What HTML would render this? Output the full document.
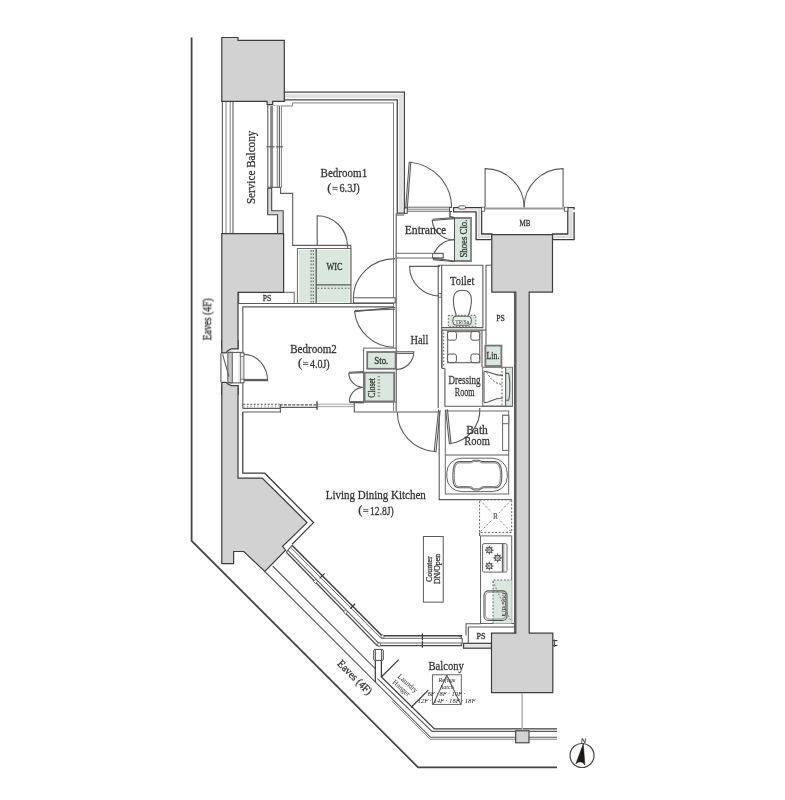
<!DOCTYPE html>
<html>
<head>
<meta charset="utf-8">
<title>Floor plan</title>
<style>
html,body{margin:0;padding:0;background:#fff;}
body{width:785px;height:800px;overflow:hidden;font-family:"Liberation Serif",serif;}
svg{display:block;}
svg text{font-family:"Liberation Serif",serif;fill:#333;stroke:#333;stroke-width:0.28;}
.d{stroke:#3c3c3c;stroke-width:1.25;fill:none;}
.m{stroke:#5c5c5c;stroke-width:1.1;fill:none;}
.l{stroke:#808080;stroke-width:1;fill:none;}
.p{fill:#d2d2d2;stroke:#3c3c3c;stroke-width:1.2;}
.w{fill:#e6e6e6;stroke:#555;stroke-width:1;}
.g{fill:#d9e7df;stroke:none;}
.gb{fill:#d9e7df;stroke:#747474;stroke-width:1.8;}
.dot{stroke:#666;stroke-width:1;fill:none;stroke-dasharray:1.6 1.6;}
.wh{fill:#fff;stroke:#666;stroke-width:1;}
</style>
</head>
<body>
<svg width="785" height="800" viewBox="0 0 785 800">
<defs><filter id="soft" x="0" y="0" width="785" height="800" filterUnits="userSpaceOnUse"><feGaussianBlur stdDeviation="0.4"/></filter></defs>
<rect x="0" y="0" width="785" height="800" fill="#fff"/>
<g filter="url(#soft)">

<!-- ===== EAVES OUTLINE ===== -->
<g id="eaves">
<polyline points="191.6,37.5 191.6,540.8 418.1,767.3 557,767.3" fill="none" stroke="#454545" stroke-width="1.8"/>
</g>


<!-- ===== WALLS ===== -->
<g id="walls">
<!-- bedroom1 top + right wall body -->
<polygon points="284.3,92.2 404.4,92.2 404.4,213.2 397.3,213.2 397.3,99.9 284.3,99.9" fill="#fff" stroke="none"/>
<polyline points="285,96.05 400.85,96.05 400.85,212.4" fill="none" stroke="#e0e0e0" stroke-width="4"/>
<polygon points="284.3,92.2 404.4,92.2 404.4,213.2 397.3,213.2 397.3,99.9 284.3,99.9" fill="none" stroke="#454545" stroke-width="1.3"/>
<!-- bedroom1 finish line -->
<polyline class="l" points="267.6,106 292.6,106 292.6,102.9 393.5,102.9 393.5,411.2"/>
<line class="m" x1="396.2" y1="213.2" x2="396.2" y2="411.2"/>
<!-- service balcony outer rail -->
<line class="m" x1="222.4" y1="101.4" x2="222.4" y2="233.6"/>
<line class="l" x1="226" y1="101.4" x2="226" y2="233.6"/>
<line class="l" x1="230.2" y1="101.4" x2="230.2" y2="233.6"/>
<line class="m" x1="233" y1="101.4" x2="233" y2="233.6"/>
<!-- window service balcony / bedroom1 -->
<rect x="267.6" y="106" width="13.8" height="81.3" fill="#fff" stroke="none"/>
<line class="m" x1="267.8" y1="104.5" x2="267.8" y2="187.3"/>
<line x1="271.6" y1="106" x2="271.6" y2="187.3" stroke="#8a8a8a" stroke-width="3"/>
<line class="l" x1="277.3" y1="106" x2="277.3" y2="187.3"/>
<line class="m" x1="279.4" y1="106" x2="279.4" y2="187.3"/>
<line class="l" x1="281.4" y1="106" x2="281.4" y2="187.3"/>
<line class="m" x1="266.5" y1="146.8" x2="274.5" y2="146.8"/>
<line class="m" x1="276" y1="146.8" x2="283" y2="146.8"/>
<line class="m" x1="267.6" y1="187.3" x2="281.4" y2="187.3"/>
<!-- thick wall below window -->
<polygon points="267.7,188.3 271.7,188.3 271.7,210.8 283.2,210.8 283.2,233.6 277.5,233.6 277.5,214.8 267.7,214.8" fill="#d8d8d8" stroke="#444" stroke-width="1.1"/>
<!-- bedroom1 left finish line -->
<polyline class="m" points="280.5,187.3 280.5,193.4 292.7,193.4 292.7,245.4 350.8,245.4 350.8,303.5"/>
</g>
<!-- ===== WIC / PS / BEDROOM1 DOORS ===== -->
<g id="wic">
<rect x="297.4" y="248.5" width="53.4" height="55" fill="#fff" stroke="#6a6a6a" stroke-width="1"/>
<rect class="g" x="298.9" y="249.8" width="50.6" height="52.5"/>
<line x1="316.2" y1="248.5" x2="316.2" y2="303.5" stroke="#5a5a5a" stroke-width="1.3"/>
<line x1="316.2" y1="284.8" x2="350.8" y2="284.8" stroke="#5a5a5a" stroke-width="1.3"/>
<line x1="311.1" y1="250" x2="311.1" y2="303" stroke="#666" stroke-width="1.1" stroke-dasharray="1.7 1.7"/>
<line x1="313.3" y1="250" x2="313.3" y2="303" stroke="#666" stroke-width="1.1" stroke-dasharray="1.7 1.7"/>
<line x1="317.5" y1="288.2" x2="349.5" y2="288.2" stroke="#666" stroke-width="1.1" stroke-dasharray="1.7 1.7"/>
<!-- WIC door -->
<path class="m" d="M317.2,245.6 L317.2,215.8 A30.2,30.2 0 0 1 347.4,245.6"/>
<line class="m" x1="347.6" y1="245.4" x2="347.6" y2="249"/>
<!-- PS box -->
<rect class="wh" x="238.7" y="292.3" width="55.5" height="11.2"/>
<line class="m" x1="238.7" y1="303.5" x2="393.3" y2="303.5"/>
</g>
<!-- ===== BEDROOM2 OUTLINE ===== -->
<g id="bed2">
<polyline class="m" points="242.8,403.1 242.8,306.9 393.3,306.9"/>
<!-- hall door to bedroom1: leaf + arc -->
<rect x="353.4" y="297.8" width="41.8" height="5.1" fill="#fff" stroke="#555" stroke-width="1"/>
<path class="m" d="M353.4,297.8 A41.8,39.5 0 0 1 395.2,258.6"/>
<!-- bedroom2 door -->
<path class="m" d="M395,307.4 L354.6,311.6 A40.6,40 0 0 0 393.6,347.3" />
<line class="m" x1="354.9" y1="310.6" x2="395" y2="309.3"/>
</g>
<!-- ===== ENTRANCE ===== -->
<g id="entrance">
<!-- entrance door -->
<line x1="405.8" y1="207.2" x2="451.7" y2="207.2" stroke="#666" stroke-width="1"/>
<line x1="405.8" y1="209.2" x2="451.7" y2="209.2" stroke="#aaa" stroke-width="1.6"/>
<line x1="405.8" y1="211.2" x2="451.7" y2="211.2" stroke="#666" stroke-width="1"/>
<path class="m" d="M405.6,209.5 L409.2,162.2 L410.8,162.2 L407.2,209.5"/>
<path class="m" d="M410.6,162.2 A46,46 0 0 1 451.7,207.4"/>
<rect x="404.4" y="208" width="2.8" height="5.4" fill="#fff" stroke="#444" stroke-width="1"/>
<polyline class="d" points="450,207.6 450,216.6 454.4,217.6"/><rect x="449.6" y="207.4" width="3.6" height="4.2" fill="#fff" stroke="#444" stroke-width="0.9"/>
<!-- wall entrance -> MB -->
<polygon points="453.6,207.7 481.6,207.7 481.6,234 491.8,234 491.8,239.7 476.1,239.7 476.1,211.8 453.6,211.8" fill="#dadada" stroke="#fff" stroke-width="3.2"/><polygon points="453.6,207.7 481.6,207.7 481.6,234 491.8,234 491.8,239.7 476.1,239.7 476.1,211.8 453.6,211.8" fill="none" stroke="#3a3a3a" stroke-width="1.3"/>
<polygon points="567.8,207.7 574.1,207.7 574.1,239.7 552.5,239.7 552.5,234 567.8,234" fill="#dadada" stroke="#fff" stroke-width="3.2"/><polygon points="567.8,207.7 574.1,207.7 574.1,239.7 552.5,239.7 552.5,234 567.8,234" fill="none" stroke="#3a3a3a" stroke-width="1.3"/>
<rect x="458.8" y="205.8" width="6.7" height="3.2" rx="1" fill="#fff" stroke="#555" stroke-width="0.9"/>
<rect x="573" y="209.6" width="2.4" height="2.6" fill="#fff"/>
<!-- MB threshold + double doors -->
<line x1="484" y1="208.5" x2="565" y2="208.5" stroke="#999" stroke-width="2.2"/>
<rect x="481.6" y="207.2" width="3" height="4" fill="#fff" stroke="#555" stroke-width="0.8"/>
<rect x="564.6" y="207.2" width="3.2" height="4" fill="#fff" stroke="#555" stroke-width="0.8"/>
<path class="m" d="M485.1,207.2 L485.1,168.6 A39,39 0 0 1 524.1,207.2"/>
<path class="m" d="M563.1,207.2 L563.1,168.6 A39,39 0 0 0 524.1,207.2"/>
<!-- entrance left & step -->
<line class="m" x1="396.2" y1="215" x2="404" y2="215"/>
<rect x="396.2" y="253.3" width="46.9" height="4.7" fill="#fff" stroke="#6a6a6a" stroke-width="1"/>
<!-- shoes closet -->
<rect class="g" x="454.6" y="217.6" width="16.8" height="43.6"/>
<polyline points="454.6,218 471,218 471,261 454.6,261" fill="none" stroke="#808080" stroke-width="1.8"/>
<line x1="454.5" y1="217.2" x2="454.5" y2="261.8" stroke="#505050" stroke-width="1"/>
<path class="m" d="M454.3,218.6 L432.2,220.4 A22.2,21 0 0 0 454.3,239.8"/>
<path class="m" d="M454.3,261 L433,258.2 A21.4,21 0 0 1 454.3,239.8"/>
<line class="m" x1="432.4" y1="219.2" x2="454.3" y2="217.6"/>
<line class="m" x1="433" y1="259.6" x2="454.3" y2="261.6"/>
<rect x="432.6" y="253.6" width="10.5" height="4.2" fill="#fff" stroke="#555" stroke-width="0.9"/>
</g>
<!-- ===== TOILET ===== -->
<g id="toilet">
<polyline class="m" points="438.2,408 438.2,265.2 482.9,265.2 482.9,327.6 441.7,327.6"/>
<line class="m" x1="441.7" y1="265.2" x2="441.7" y2="368"/>
<polyline class="m" points="491.8,265.2 486,265.2 486,344.8"/>
<!-- toilet door -->
<path class="m" d="M440,266.4 L409.6,266.4 A30.4,29.6 0 0 0 440,296"/>
<rect x="438.6" y="293.6" width="2.6" height="3.6" fill="#fff" stroke="#555" stroke-width="0.8"/>
<!-- bowl -->
<path class="m" d="M456.6,316.5 C453.2,306 452.6,296.8 455.2,293.2 C458,289.2 466.8,289.2 469.6,293.2 C472.2,296.8 471.6,306 468.2,316.5" fill="#fff"/>
<rect x="448.3" y="315.3" width="27.6" height="11.4" class="g"/>
<rect x="448.3" y="315.3" width="27.6" height="11.4" fill="none" stroke="#666" stroke-width="1" stroke-dasharray="1.6 1.6"/>
<rect x="452.9" y="316.2" width="18.4" height="9" rx="3.2" fill="#e9f1ec" stroke="#555" stroke-width="1"/>
</g>
<!-- ===== STO / CLOSET ===== -->
<g id="sto">
<rect x="363.6" y="348.1" width="32.6" height="54" fill="#fff" stroke="#6a6a6a" stroke-width="1"/>
<rect class="gb" x="367.2" y="352" width="28.4" height="16.8"/>
<path class="m" d="M396.2,351.8 L413.8,351.8 A17.6,17.6 0 0 1 396.2,369.4"/>
<line class="m" x1="396.2" y1="353.4" x2="413.6" y2="353.4"/>
<rect class="gb" x="364.6" y="372.6" width="29.6" height="28.8"/>
<line x1="378.8" y1="376.2" x2="378.8" y2="398.6" stroke="#777" stroke-width="2.6" stroke-dasharray="1 2.2"/>
<path class="m" d="M363.6,372.6 L348.8,373.3 A14.8,14.4 0 0 0 362.6,387.4"/>
<path class="m" d="M363.6,401.8 L349.4,401.2 A14.2,14 0 0 1 362.6,387.4"/>
<line class="m" x1="348.9" y1="372.2" x2="363.6" y2="371.6"/>
<line class="m" x1="349.4" y1="402.4" x2="363.6" y2="402.6"/>
</g>
<!-- ===== PARTITION bed2 / LDK ===== -->
<g id="partition">
<line x1="243.2" y1="404.2" x2="279.7" y2="404.2" stroke="#555" stroke-width="1.1" stroke-dasharray="2 1.5"/>
<line x1="243.6" y1="406.4" x2="279.7" y2="406.4" stroke="#999" stroke-width="2.4" stroke-dasharray="0.8 2.7"/>
<line class="m" x1="242.8" y1="408.4" x2="280.6" y2="408.4"/>
<line x1="279.7" y1="404.9" x2="317" y2="404.9" stroke="#555" stroke-width="1.1" stroke-dasharray="3 1.2"/>
<line class="m" x1="279.7" y1="407.4" x2="317" y2="407.4"/>
<line x1="317" y1="404.2" x2="354.3" y2="404.2" stroke="#9a9a9a" stroke-width="0.9"/>
<line x1="317" y1="406.6" x2="354.3" y2="406.6" stroke="#9a9a9a" stroke-width="0.9"/>
<line class="d" x1="317" y1="401.2" x2="317" y2="409.8"/>
<line class="m" x1="280.4" y1="404.4" x2="280.4" y2="412.6"/>
<line class="m" x1="242.8" y1="403.1" x2="242.8" y2="408.4"/>
<polyline class="m" points="242.8,412 280.8,412"/>
<polyline class="m" points="363.6,402.8 354.3,402.8 354.3,412 440,412"/>
<!-- LDK door -->
<path class="m" d="M438.6,409.6 L434.2,451.4 L436,451.6 L440.2,410"/>
<path class="m" d="M397.3,412 A39.6,40 0 0 0 434.6,451.5"/>
</g>
<!-- ===== WASHER / LIN / BASIN / DRESSING ===== -->
<g id="dressing">
<polyline class="m" points="441.9,368.4 441.9,330.1 482,330.1 482,367.3"/>
<line class="m" x1="486" y1="330.1" x2="482" y2="330.1"/>
<line x1="443.7" y1="332.5" x2="443.7" y2="367.6" stroke="#666" stroke-width="1.1" stroke-dasharray="1.6 1.9"/>
<rect x="447.6" y="331.6" width="32.1" height="31" fill="#fff" stroke="#777" stroke-width="1.3"/>
<rect x="447.6" y="331.6" width="8.8" height="8.6" rx="2" fill="#fff" stroke="#555" stroke-width="1"/>
<rect x="470.9" y="331.6" width="8.8" height="8.6" rx="2" fill="#fff" stroke="#555" stroke-width="1"/>
<rect x="447.6" y="354" width="8.8" height="8.6" rx="2" fill="#fff" stroke="#555" stroke-width="1"/>
<rect x="470.9" y="354" width="8.8" height="8.6" rx="2" fill="#fff" stroke="#555" stroke-width="1"/>
<!-- Lin. -->
<rect class="gb" x="485.4" y="345.6" width="16" height="20.4"/>
<!-- basin -->
<rect x="482.7" y="367.3" width="29.8" height="38.9" fill="#fff" stroke="#6a6a6a" stroke-width="1"/>
<rect class="g" x="505.4" y="368" width="6.6" height="37.6"/>
<line class="m" x1="505.6" y1="367.3" x2="505.6" y2="406.2"/>
<line x1="502" y1="367.3" x2="502" y2="406.2" stroke="#666" stroke-width="1" stroke-dasharray="2 1.6"/>
<path class="m" d="M484,371.2 C491,371.2 492,375.4 503,375.4"/>
<path class="m" d="M484,402.6 C491,402.6 492,398 503,398"/>
<path d="M486.5,372 C490,378 494,383.5 502,384.5" fill="none" stroke="#666" stroke-width="1" stroke-dasharray="2 1.6"/>
<path class="m" d="M505.6,373.4 L508.6,373.4 C510.2,380 510.2,394 508.6,400.2 L505.6,400.2" fill="#e9f1ec"/>
<line class="m" x1="484" y1="371.2" x2="484" y2="402.6"/>
<!-- dressing room walls -->
<polyline class="m" points="444.9,368.4 444.9,406.2 512.5,406.2"/>
<polyline class="m" points="441.9,368.4 444.9,368.4"/>
<line class="m" x1="514.5" y1="292.1" x2="514.5" y2="633.2"/>
</g>
<!-- ===== BATHROOM ===== -->
<g id="bath">
<polyline class="m" points="439.2,411.7 439.2,499.6 511.8,499.6"/>
<rect x="445.3" y="411" width="63.4" height="83" fill="#fff" stroke="#6a6a6a" stroke-width="1"/>
<line class="m" x1="445.3" y1="455" x2="508.7" y2="455"/>
<rect x="446.8" y="458.2" width="60.4" height="33.4" rx="15" ry="14.5" fill="#fff" stroke="#666" stroke-width="1"/>
<path class="m" d="M459,461.6 L470.5,461.6 C472.6,461.6 472.4,460.3 474.6,460.3 L478.4,460.3 C480.4,460.3 480.4,461.6 482.6,461.6 L494.4,461.6 C499.4,461.6 501.8,465.4 501.8,475.4 C501.8,485.4 499.4,487.8 494.4,487.8 L483.4,487.8 C480.6,487.8 480.6,490 478.2,490 L474.8,490 C472.4,490 472.4,487.8 469.6,487.8 L459,487.8 C454.6,487.8 452.9,485.4 452.9,475.4 C452.9,465.4 454.6,461.6 459,461.6 Z"/>
<path class="l" d="M459.6,462.9 L470.5,462.9 C472.6,462.9 472.4,461.6 474.6,461.6 L478.4,461.6 C480.4,461.6 480.4,462.9 482.6,462.9 L493.8,462.9 C498.4,462.9 500.4,466.2 500.4,475.4 C500.4,484.6 498.4,486.5 493.8,486.5 L483.4,486.5 C480.6,486.5 480.6,488.7 478.2,488.7 L474.8,488.7 C472.4,488.7 472.4,486.5 469.6,486.5 L459.6,486.5 C455.8,486.5 454.3,484.6 454.3,475.4 C454.3,466.2 455.8,462.9 459.6,462.9 Z"/>
<!-- shower bar -->
<rect x="502.6" y="415.3" width="6.1" height="35.1" fill="#fff" stroke="#6a6a6a" stroke-width="1"/>
<rect x="502.6" y="415.3" width="6.1" height="8.4" fill="#fff" stroke="#6a6a6a" stroke-width="1"/>
<!-- bath door -->
<path class="m" d="M445.6,409.4 L449.4,443.6 L451,443.4 L447.4,409.4"/>
<path class="m" d="M450.2,443.5 A34,34 0 0 0 479.8,408"/>
</g>
<!-- ===== KITCHEN ===== -->
<g id="kitchen">
<rect x="479.6" y="499.9" width="32.1" height="32.5" fill="#fff" stroke="#666" stroke-width="1" stroke-dasharray="2 1.6"/>
<line x1="479.6" y1="499.9" x2="511.7" y2="532.4" stroke="#777" stroke-width="0.9" stroke-dasharray="2.4 1.8"/>
<line x1="511.7" y1="499.9" x2="479.6" y2="532.4" stroke="#777" stroke-width="0.9" stroke-dasharray="2.4 1.8"/>
<rect x="491.8" y="511.6" width="7.2" height="8.4" fill="#fff"/>
<line class="m" x1="479.6" y1="532.6" x2="479.6" y2="535.9"/>
<rect x="480.5" y="535.9" width="31.2" height="87.6" fill="#fff" stroke="#6a6a6a" stroke-width="1"/>
<!-- stove -->
<rect x="482.6" y="543.6" width="24.4" height="28.5" rx="1.5" fill="#fff" stroke="#666" stroke-width="1"/>
<line class="m" x1="502.4" y1="543.6" x2="502.4" y2="572.1"/>
<line class="l" x1="503.8" y1="543.6" x2="503.8" y2="572.1"/>
<g stroke="#555" stroke-width="0.9" fill="none">
<g transform="translate(489.3,550.1)"><path d="M-4.3,0H4.3M0,-4.3V4.3M-3,-3L3,3M-3,3L3,-3" stroke-width="1.1"/><circle r="2.5" fill="#fff" stroke-width="1.1"/><circle r="0.9" fill="#fff" stroke-width="0.8"/></g>
<g transform="translate(497.6,557.9)"><path d="M-4.3,0H4.3M0,-4.3V4.3M-3,-3L3,3M-3,3L3,-3" stroke-width="1.1"/><circle r="2.5" fill="#fff" stroke-width="1.1"/><circle r="0.9" fill="#fff" stroke-width="0.8"/></g>
<g transform="translate(489.3,566)"><path d="M-4.3,0H4.3M0,-4.3V4.3M-3,-3L3,3M-3,3L3,-3" stroke-width="1.1"/><circle r="2.5" fill="#fff" stroke-width="1.1"/><circle r="0.9" fill="#fff" stroke-width="0.8"/></g>
</g>
<!-- green dotted storage + sink -->
<rect class="g" x="493" y="580" width="18.7" height="43.5"/>
<polyline points="493,623.5 493,580 511.7,580" fill="none" stroke="#666" stroke-width="1" stroke-dasharray="1.8 1.6"/>
<line x1="493" y1="581.3" x2="510.8" y2="621" stroke="#666" stroke-width="0.9" stroke-dasharray="1.6 1.8"/>
<rect x="484" y="590.9" width="23" height="29.5" rx="4.5" fill="none" stroke="#555" stroke-width="1.1"/>
<rect x="485.4" y="592.3" width="20.2" height="26.7" rx="3.6" fill="none" stroke="#888" stroke-width="0.8"/>
<!-- counter island -->
<rect x="423.4" y="536.5" width="19.8" height="65.6" fill="#fff" stroke="#5a5a5a" stroke-width="1"/>
<!-- PS + step -->
<polyline class="m" points="480.5,623.8 466,623.8 466,635.6"/>
<polyline class="m" points="491.5,627 468.3,627 468.3,643"/>
<line class="m" x1="511.7" y1="623.5" x2="514.5" y2="623.5"/>
<line class="m" x1="491.5" y1="627" x2="514.5" y2="627"/>
<rect x="463.6" y="643.3" width="27.9" height="4.9" fill="#e6e6e6" stroke="#3c3c3c" stroke-width="1.2"/>
</g>
<!-- ===== PILLARS ===== -->
<g id="pillars">
<polygon class="p" points="221.8,37.5 238,37.5 238,40.4 284.3,40.4 284.3,101.4 272.7,101.4 272.7,104.5 267.1,104.5 267.1,101.4 221.8,101.4"/>
<polygon class="p" points="221.8,233.6 283.6,233.6 283.6,292.3 238,292.3 238,478.1 262.2,478.1 307,522.6 282.6,546.4 285.6,550.1 264.8,571.5 243.8,551.5 233.6,551.5 233.6,563.7 221.8,563.7"/>
<polygon class="p" points="491.8,234.6 552.5,234.6 552.5,292.1 529.2,292.1 529.2,633.2 552.8,633.2 552.8,692.6 491.5,692.6 491.5,633.2 515.8,633.2 515.8,292.1 491.8,292.1"/>
</g>
<!-- ===== STEM WINDOW (bedroom2) ===== -->
<g id="stemwin">
<rect x="220.6" y="349" width="18.2" height="36.6" fill="#fff" stroke="none"/>
<rect x="238.6" y="352.4" width="5.8" height="30.5" fill="#fff" stroke="none"/>
<polygon points="221.8,349.4 221.8,352.9 226,352.9 227.8,350.7 231.4,348.9 238,348.9 238,340 221.8,340" fill="#d2d2d2" stroke="none"/>
<polygon points="221.8,385.2 221.8,382.4 226,382.4 227.8,384 231.4,385.5 238,385.5 238,395 221.8,395" fill="#d2d2d2" stroke="none"/>
<polyline class="d" points="238,340 238,348.9 231.4,348.9 227.8,350.7 226,352.9 221.2,352.9"/>
<polyline class="d" points="238,395 238,385.5 231.4,385.5 227.8,384 226,382.4 221.2,382.4"/>
<line class="d" x1="221.8" y1="340" x2="221.8" y2="352.9"/>
<line class="d" x1="221.8" y1="382.4" x2="221.8" y2="395"/>
<line class="m" x1="220.9" y1="353.2" x2="220.9" y2="382.2"/>
<rect x="227.8" y="352.2" width="4.5" height="30.6" fill="#c4c4c4" stroke="#555" stroke-width="0.9"/>
<line class="m" x1="222.6" y1="354.3" x2="229" y2="376.6"/>
<polyline class="m" points="227.8,352.4 243.9,352.4"/>
<polyline class="m" points="227.8,382.9 243.9,382.9"/>
<rect x="240.3" y="353" width="3.6" height="29.6" fill="#e4e4e4" stroke="#666" stroke-width="0.9"/>
<rect x="240.3" y="353" width="3.6" height="3.4" fill="#fff" stroke="#666" stroke-width="0.8"/>
<rect x="240.3" y="379.2" width="3.6" height="3.4" fill="#fff" stroke="#666" stroke-width="0.8"/>
<path class="m" d="M243.9,380.6 L267.6,380.6 A23.7,26.2 0 0 0 243.9,354.4"/>
<line class="m" x1="243.9" y1="379.4" x2="267.4" y2="379.4"/>
</g>
<!-- ===== LDK left/bottom outline ===== -->
<g id="ldk">
<polyline class="d" points="242.8,412 242.8,473.2 264.8,473.2 313.5,522.6 292,544.4"/>
</g>
<!-- ===== DIAGONAL + BOTTOM SLIDING WINDOWS ===== -->
<g id="slide">
<!-- inner pair (dark) -->
<polyline points="292,545.3 382,635.8 462.2,635.8" fill="none" stroke="#444" stroke-width="1.6"/>
<polyline points="290.3,547 381,638.3 462.2,638.3" fill="none" stroke="#6a6a6a" stroke-width="1"/>
<!-- outer pair -->
<polyline points="287.9,550.3 378.4,643 462.2,643" fill="none" stroke="#666" stroke-width="1.1"/>
<polyline points="286.3,552.2 377.2,645.7 462.2,645.7" fill="none" stroke="#4a4a4a" stroke-width="1.3"/>
<line class="m" x1="286.3" y1="552.2" x2="292" y2="545.3"/>
<!-- ticks on inner line -->
<line class="d" x1="319.6" y1="578.4" x2="324.6" y2="573.4"/>
<line class="d" x1="350.2" y1="608.8" x2="355.2" y2="603.8"/>
<!-- small squares on outer -->
<rect x="-1.5" y="-1.5" width="3" height="3" fill="#fff" stroke="#555" stroke-width="0.8" transform="translate(315.6,581.4) rotate(45)"/>
<rect x="-1.5" y="-1.5" width="3" height="3" fill="#fff" stroke="#555" stroke-width="0.8" transform="translate(345.6,612) rotate(45)"/>
<!-- tick on horizontal -->
<line class="d" x1="422.4" y1="633.4" x2="422.4" y2="640.4"/>
<line class="d" x1="422.4" y1="641.2" x2="422.4" y2="647.8"/>
<!-- right end cap -->
<path class="m" d="M458.6,635.8 L461,636.8 L462.2,639 L462.2,643 L461,645 L458.6,645.7"/>
<rect x="381" y="635" width="3" height="3" rx="1" fill="#fff" stroke="#555" stroke-width="0.8"/>
<rect x="377.6" y="643" width="3" height="3" rx="1" fill="#fff" stroke="#555" stroke-width="0.8"/>
</g>
<!-- ===== BALCONY RAILS ===== -->
<g id="balcony">
<!-- line A: pillar bottom to post -->
<line class="m" x1="272.6" y1="566" x2="375.2" y2="668.6"/>
<!-- line B: pillar tip to bottom rail -->
<polyline points="264.8,571.5 430.6,737.3 557,737.3" fill="none" stroke="#5a5a5a" stroke-width="1.1"/>
<polyline class="l" points="392,701.2 430,739.2 557,739.2"/>
<!-- post -->
<polyline class="d" points="375.3,660.4 375.3,682"/>
<polyline class="d" points="381.4,660.4 381.4,676.9 434.4,728.9 557,728.9"/>
<polyline class="m" points="377.4,678.6 432,731.4 557,731.4"/>
<rect x="373.7" y="649.4" width="9.6" height="11" rx="1.2" fill="#fff" stroke="#4a4a4a" stroke-width="1"/>
<line class="m" x1="375.4" y1="649.4" x2="375.4" y2="661"/>
<line class="m" x1="381.6" y1="649.4" x2="381.6" y2="661"/>
<!-- laundry hanger -->
<line class="d" x1="398.7" y1="659.6" x2="381.6" y2="676.8"/>
<line class="d" x1="428.3" y1="690.1" x2="411" y2="707.5"/>
<!-- refuge hatch box -->
<rect x="432.4" y="674.8" width="28.9" height="29.6" fill="#fff" stroke="#555" stroke-width="0.9"/>
<path class="m" d="M446.8,675.2 L433.4,704 M446.8,675.2 L460.6,704" stroke-width="0.8"/>
<!-- pillar drop line + post -->
<line x1="522.3" y1="693" x2="522.3" y2="730" stroke="#8a8a8a" stroke-width="1.5"/>
<line x1="522.3" y1="693" x2="522.3" y2="730" stroke="#fff" stroke-width="0.5"/>
<rect x="515.7" y="730.8" width="13.3" height="12" fill="#d2d2d2" stroke="#3c3c3c" stroke-width="1.1"/>
<!-- right of bottom pillar -->
<line class="d" x1="552.8" y1="640.6" x2="557.4" y2="640.6"/>
<line class="d" x1="552.8" y1="645.6" x2="557.4" y2="645.6"/>
<line class="m" x1="554.4" y1="639.4" x2="554.4" y2="647"/>
</g>
<!-- ===== COMPASS ===== -->
<g id="compass">
<circle cx="582" cy="755.5" r="12" fill="#fff" stroke="#4a4444" stroke-width="1.2"/>
<path d="M583.3,743.8 L575.8,763.9 Q580.6,759.4 584.9,764.8 Z" fill="#1f1616" stroke="#1f1616" stroke-width="0.5" stroke-linejoin="round"/>
<path d="M581.7,742.8 L582.3,738.4 L584.9,742.8 L585.6,738.4" fill="none" stroke="#333" stroke-width="0.9"/>
</g>

<!-- ===== TEXT ===== -->
<g id="labels" style="opacity:0.999">
<text x="343.9" y="177.2" font-size="13.5" text-anchor="middle" textLength="46.6" lengthAdjust="spacingAndGlyphs" >Bedroom1</text>
<text x="327.2" y="192.2" font-size="12.5" text-anchor="start">(</text>
<g stroke="#3a3a3a" stroke-width="0.8" fill="#3a3a3a"><line x1="332.4" y1="187.5" x2="337.6" y2="187.5"/><line x1="332.4" y1="189.3" x2="337.6" y2="189.3"/><circle cx="333.1" cy="185.9" r="0.45" stroke="none"/><circle cx="336.9" cy="190.9" r="0.45" stroke="none"/></g>
<text x="339.4" y="192.4" font-size="12.5" text-anchor="start" textLength="20.4" lengthAdjust="spacingAndGlyphs">6.3J)</text>
<text transform="translate(254.8,167.4) rotate(-90)" font-size="12.5" text-anchor="middle" textLength="73.4" lengthAdjust="spacingAndGlyphs" >Service Balcony</text>
<text x="334.4" y="269.8" font-size="9.5" text-anchor="middle" textLength="16" lengthAdjust="spacingAndGlyphs" >WIC</text>
<text x="267.1" y="301.2" font-size="8.5" text-anchor="middle" textLength="8.6" lengthAdjust="spacingAndGlyphs" >PS</text>
<text x="425.5" y="233.8" font-size="13.5" text-anchor="middle" textLength="41.6" lengthAdjust="spacingAndGlyphs" >Entrance</text>
<text transform="translate(466.8,238.6) rotate(-90)" font-size="10" text-anchor="middle" textLength="38" lengthAdjust="spacingAndGlyphs" >Shoes Clo.</text>
<text x="462.2" y="285" font-size="13.5" text-anchor="middle" textLength="24.2" lengthAdjust="spacingAndGlyphs" >Toilet</text>
<text transform="translate(211.2,319.4) rotate(-90)" font-size="11.5" text-anchor="middle" textLength="42" lengthAdjust="spacingAndGlyphs" >Eaves (4F)</text>
<text x="419.4" y="343.6" font-size="13.5" text-anchor="middle" textLength="17.8" lengthAdjust="spacingAndGlyphs" >Hall</text>
<text x="313.5" y="352.6" font-size="13.5" text-anchor="middle" textLength="46.6" lengthAdjust="spacingAndGlyphs" >Bedroom2</text>
<text x="298" y="367.4" font-size="12.5" text-anchor="start">(</text>
<g stroke="#3a3a3a" stroke-width="0.8" fill="#3a3a3a"><line x1="303.0" y1="362.70000000000005" x2="308.20000000000005" y2="362.70000000000005"/><line x1="303.0" y1="364.5" x2="308.20000000000005" y2="364.5"/><circle cx="303.70000000000005" cy="361.1" r="0.45" stroke="none"/><circle cx="307.5" cy="366.1" r="0.45" stroke="none"/></g>
<text x="309.9" y="367.6" font-size="12.5" text-anchor="start" textLength="19.8" lengthAdjust="spacingAndGlyphs">4.0J)</text>
<text x="381.3" y="363.8" font-size="9.5" text-anchor="middle" textLength="14" lengthAdjust="spacingAndGlyphs" >Sto.</text>
<text transform="translate(374.6,387.9) rotate(-90)" font-size="9.5" text-anchor="middle" textLength="19.6" lengthAdjust="spacingAndGlyphs" >Closet</text>
<text x="464.4" y="384.2" font-size="13" text-anchor="middle" textLength="32" lengthAdjust="spacingAndGlyphs" >Dressing</text>
<text x="464.6" y="395.6" font-size="13" text-anchor="middle" textLength="19.6" lengthAdjust="spacingAndGlyphs" >Room</text>
<text x="477" y="434" font-size="13.5" text-anchor="middle" textLength="21.7" lengthAdjust="spacingAndGlyphs" >Bath</text>
<text x="477" y="444.8" font-size="13.5" text-anchor="middle" textLength="25.5" lengthAdjust="spacingAndGlyphs" >Room</text>
<text x="493" y="358.8" font-size="9.5" text-anchor="middle" textLength="12.8" lengthAdjust="spacingAndGlyphs" >Lin.</text>
<text x="375.8" y="499.2" font-size="13" text-anchor="middle" textLength="100" lengthAdjust="spacingAndGlyphs" >Living Dining Kitchen</text>
<text x="358.2" y="514.4" font-size="12.5" text-anchor="start">(</text>
<g stroke="#3a3a3a" stroke-width="0.8" fill="#3a3a3a"><line x1="363.2" y1="509.70000000000005" x2="368.40000000000003" y2="509.70000000000005"/><line x1="363.2" y1="511.5" x2="368.40000000000003" y2="511.5"/><circle cx="363.90000000000003" cy="508.1" r="0.45" stroke="none"/><circle cx="367.7" cy="513.1" r="0.45" stroke="none"/></g>
<text x="370" y="514.6" font-size="12.5" text-anchor="start" textLength="23.8" lengthAdjust="spacingAndGlyphs">12.8J)</text>
<text transform="translate(431.8,569.2) rotate(-90)" font-size="8.5" text-anchor="middle" textLength="25.5" lengthAdjust="spacingAndGlyphs" >Counter</text>
<text transform="translate(440.4,569) rotate(-90)" font-size="8.5" text-anchor="middle" textLength="30" lengthAdjust="spacingAndGlyphs" >DN/Open</text>
<text x="481" y="638.6" font-size="9" text-anchor="middle" textLength="9" lengthAdjust="spacingAndGlyphs" >PS</text>
<text x="500.5" y="320.6" font-size="8.5" text-anchor="middle" textLength="8.6" lengthAdjust="spacingAndGlyphs" >PS</text>
<text x="524.9" y="226.4" font-size="8.5" text-anchor="middle" textLength="11" lengthAdjust="spacingAndGlyphs" >MB</text>
<text style="stroke-width:0.05;fill:#444" x="495.5" y="518.6" font-size="7.5" text-anchor="middle" fill="#666">R</text>
<text x="446.2" y="670" font-size="13.5" text-anchor="middle" textLength="35.5" lengthAdjust="spacingAndGlyphs" >Balcony</text>
<text transform="translate(354.9,677.3) rotate(45)" font-size="11" text-anchor="middle" textLength="44" lengthAdjust="spacingAndGlyphs" dy="3.6">Eaves (4F)</text>
<text style="stroke-width:0.05;fill:#444" transform="translate(407.8,683.3) rotate(42)" font-size="7.5" text-anchor="middle" textLength="24" lengthAdjust="spacingAndGlyphs" dy="2.4">Laundry</text>
<text style="stroke-width:0.05;fill:#444" transform="translate(401.5,688.1) rotate(42)" font-size="7.5" text-anchor="middle" textLength="21" lengthAdjust="spacingAndGlyphs" dy="2.4">Hanger</text>
<text style="stroke-width:0.05;fill:#444" x="447" y="681.6" font-style="italic" font-size="6.5" text-anchor="middle" textLength="17" lengthAdjust="spacingAndGlyphs" >Refuge</text>
<text style="stroke-width:0.05;fill:#444" x="447" y="689" font-style="italic" font-size="6.5" text-anchor="middle" textLength="13.5" lengthAdjust="spacingAndGlyphs" >hatch</text>
<text style="stroke-width:0.05;fill:#444" x="446.4" y="696" font-style="italic" font-size="6.3" text-anchor="middle" textLength="37.5" lengthAdjust="spacingAndGlyphs" >6F · 8F · 10F ·</text>
<text style="stroke-width:0.05;fill:#444" x="446.6" y="703" font-style="italic" font-size="6.3" text-anchor="middle" textLength="57.8" lengthAdjust="spacingAndGlyphs" >12F · 14F · 16F · 18F</text>
<text style="stroke-width:0.05;fill:#444" transform="translate(505.8,604.6) rotate(-90)" font-size="6.5" text-anchor="middle" textLength="24" lengthAdjust="spacingAndGlyphs">UP.360</text>
<text style="stroke-width:0.05;fill:#444" x="462.2" y="323.6" font-size="6" text-anchor="middle" textLength="14" lengthAdjust="spacingAndGlyphs" >TP/Sa</text>
</g>

</g>
</svg>
</body>
</html>
